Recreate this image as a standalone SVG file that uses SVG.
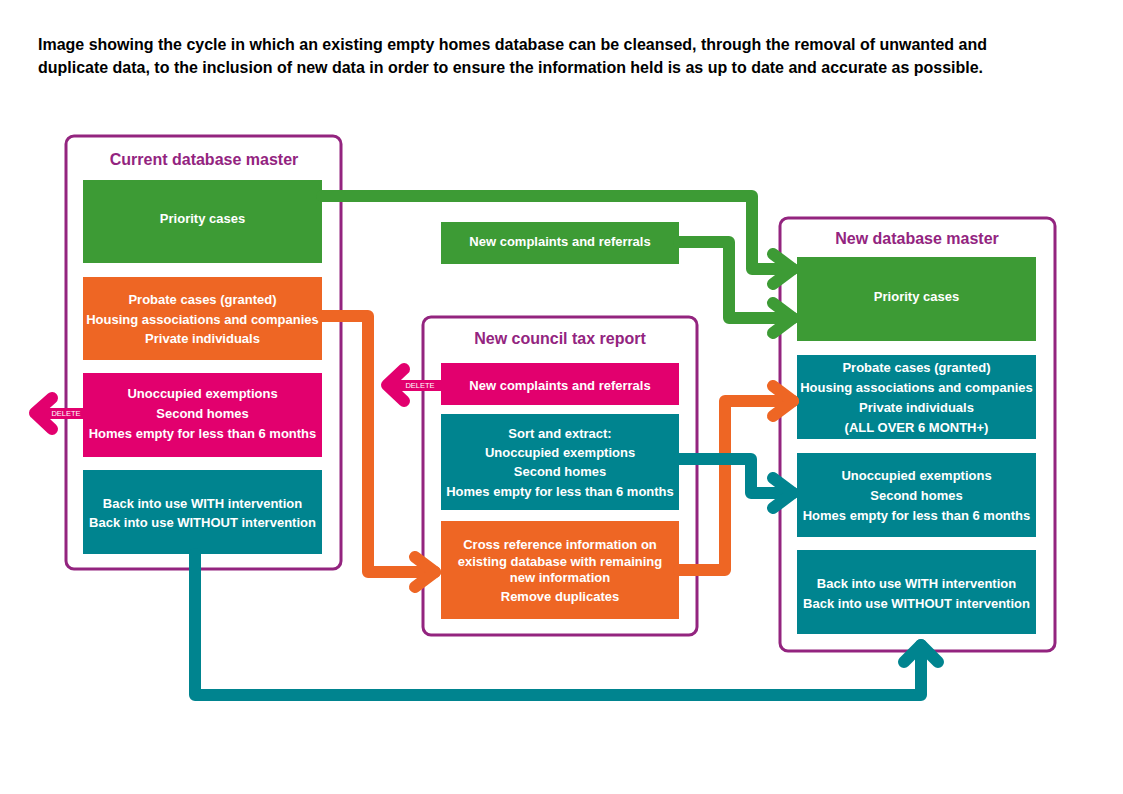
<svg xmlns="http://www.w3.org/2000/svg" width="1123" height="794" viewBox="0 0 1123 794">
<style>
.panel{fill:#fff;stroke:#93247f;stroke-width:3}
.ptitle{font-family:"Liberation Sans",Arial,sans-serif;font-weight:bold;font-size:16px;fill:#93247f;text-anchor:middle}
.t{font-family:"Liberation Sans",Arial,sans-serif;font-weight:bold;font-size:13px;fill:#fff;text-anchor:middle}
.head{font-family:"Liberation Sans",Arial,sans-serif;font-weight:bold;font-size:16px;fill:#000}
.del{font-family:"Liberation Sans",Arial,sans-serif;font-size:7.5px;fill:#fff;text-anchor:middle}
.green{fill:#3d9b35}.orange{fill:#ee6624}.mag{fill:#e2006e}.teal{fill:#00848f}
.c{fill:none;stroke-width:12;stroke-linejoin:round;stroke-linecap:round}
.cg{stroke:#3d9b35}.co{stroke:#ee6624}.ct{stroke:#00848f}.cm{stroke:#e2006e}
</style>
<rect width="1123" height="794" fill="#fff"/>
<g id="heading">
<text class="head" x="38" y="49.5" textLength="949" lengthAdjust="spacingAndGlyphs">Image showing the cycle in which an existing empty homes database can be cleansed, through the removal of unwanted and</text>
<text class="head" x="38" y="72.5" textLength="945" lengthAdjust="spacingAndGlyphs">duplicate data, to the inclusion of new data in order to ensure the information held is as up to date and accurate as possible.</text>
</g>
<g id="current-master">
<rect class="panel" x="66" y="136" width="275" height="433" rx="8"/>
<text class="ptitle" x="204" y="165">Current database master</text>
</g>
<g id="cur-priority"><rect class="green" x="83" y="180" width="239" height="83"/><text class="t" x="202.5" y="222.5">Priority cases</text></g>
<g id="cur-probate"><rect class="orange" x="83" y="277" width="239" height="83"/>
<text class="t" x="202.5" y="303.5">Probate cases (granted)</text><text class="t" x="202.5" y="323.5">Housing associations and companies</text><text class="t" x="202.5" y="342.5">Private individuals</text></g>
<g id="cur-unoccupied"><rect class="mag" x="83" y="373" width="239" height="84"/>
<text class="t" x="202.5" y="397.5">Unoccupied exemptions</text><text class="t" x="202.5" y="417.5">Second homes</text><text class="t" x="202.5" y="437.5">Homes empty for less than 6 months</text></g>
<g id="cur-backinuse"><rect class="teal" x="83" y="470" width="239" height="84"/>
<text class="t" x="202.5" y="507.5">Back into use WITH intervention</text><text class="t" x="202.5" y="526.5">Back into use WITHOUT intervention</text></g>

<g id="council-tax">
<rect class="panel" x="423" y="317" width="274" height="318" rx="8"/>
<text class="ptitle" x="560" y="344">New council tax report</text>
</g>
<g id="ct-complaints"><rect class="mag" x="441" y="363" width="238" height="42"/><text class="t" x="560" y="389.5">New complaints and referrals</text></g>
<g id="ct-sort"><rect class="teal" x="441" y="414" width="238" height="96"/>
<text class="t" x="560" y="437.5">Sort and extract:</text><text class="t" x="560" y="456.5">Unoccupied exemptions</text><text class="t" x="560" y="475.5">Second homes</text><text class="t" x="560" y="495.5">Homes empty for less than 6 months</text></g>
<g id="ct-crossref"><rect class="orange" x="441" y="521" width="238" height="98"/>
<text class="t" x="560" y="548.5">Cross reference information on</text><text class="t" x="560" y="565.5">existing database with remaining</text><text class="t" x="560" y="581.5">new information</text><text class="t" x="560" y="600.5">Remove duplicates</text></g>

<g id="complaints-top"><rect class="green" x="441" y="222" width="238" height="42"/><text class="t" x="560" y="245.5">New complaints and referrals</text></g>

<g id="new-master">
<rect class="panel" x="780" y="218" width="275" height="433" rx="8"/>
<text class="ptitle" x="917" y="244">New database master</text>
</g>
<g id="new-priority"><rect class="green" x="797" y="257" width="239" height="84"/><text class="t" x="916.5" y="300.5">Priority cases</text></g>
<g id="new-probate"><rect class="teal" x="797" y="355" width="239" height="84"/>
<text class="t" x="916.5" y="371.5">Probate cases (granted)</text><text class="t" x="916.5" y="391.5">Housing associations and companies</text><text class="t" x="916.5" y="411.5">Private individuals</text><text class="t" x="916.5" y="431.5">(ALL OVER 6 MONTH+)</text></g>
<g id="new-unoccupied"><rect class="teal" x="797" y="453" width="239" height="84"/>
<text class="t" x="916.5" y="479.5">Unoccupied exemptions</text><text class="t" x="916.5" y="499.5">Second homes</text><text class="t" x="916.5" y="519.5">Homes empty for less than 6 months</text></g>
<g id="new-backinuse"><rect class="teal" x="797" y="550" width="239" height="84"/>
<text class="t" x="916.5" y="587.5">Back into use WITH intervention</text><text class="t" x="916.5" y="607.5">Back into use WITHOUT intervention</text></g>

<g id="connectors">
<path class="c cg" d="M322 196 H752 V269 H793" stroke-linecap="butt"/>
<path class="c cg" d="M773 254 L793 269 L773 284"/>
<path class="c cg" d="M679 242 H729 V318 H793" stroke-linecap="butt"/>
<path class="c cg" d="M773 303 L793 318 L773 333"/>
<path class="c co" d="M322 316 H368 V572 H435" stroke-linecap="butt"/>
<path class="c co" d="M415 557 L435 572 L415 587"/>
<path class="c co" d="M679 570 H725 V401 H793" stroke-linecap="butt"/>
<path class="c co" d="M773 386 L793 401 L773 416"/>
<path class="c ct" d="M679 459 H751 V493 H793" stroke-linecap="butt"/>
<path class="c ct" d="M773 478 L793 493 L773 508"/>
<path class="c ct" d="M195 554 V695 H921 V645" stroke-linecap="butt"/>
<path class="c ct" d="M904 662 L921 645 L938 662"/>
<rect class="mag" x="44" y="408" width="39" height="11"/>
<path class="c cm" d="M52 398 L35 413 L52 429"/>
<text class="del" x="66" y="416">DELETE</text>
<rect class="mag" x="393" y="380" width="48" height="11"/>
<path class="c cm" d="M404 369 L387 385 L404 401"/>
<text class="del" x="420" y="388">DELETE</text>
</g>
</svg>
